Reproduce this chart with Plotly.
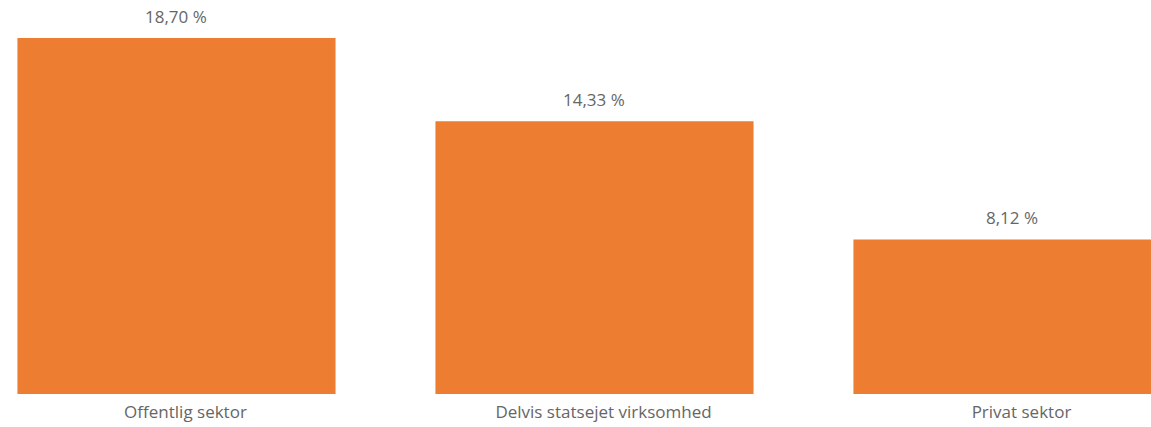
import plotly.graph_objects as go

categories = ["Offentlig sektor", "Delvis statsejet virksomhed", "Privat sektor"]
values = [18.70, 14.33, 8.12]

BAR_COLOR = "#ED7D31"
TEXT_COLOR = "#666666"
FONT = "Open Sans, sans-serif"

fig = go.Figure(
    go.Bar(
        x=categories,
        y=values,
        marker=dict(color=BAR_COLOR, line=dict(width=0)),
        hovertemplate="%{x}: %{y:.2f} %<extra></extra>",
    )
)

# value labels above the bars, a bit further up than plotly's outside text
for cat, val in zip(categories, values):
    fig.add_annotation(
        x=cat,
        y=val,
        text=f"{val:.2f} %".replace(".", ","),
        showarrow=False,
        yanchor="bottom",
        yshift=8,
        font=dict(family=FONT, size=17, color=TEXT_COLOR),
    )

fig.update_layout(
    width=1151,
    height=427,
    margin=dict(l=0, r=0, t=0, b=33),
    plot_bgcolor="white",
    paper_bgcolor="white",
    separators=",.",
    bargap=0.239,
    showlegend=False,
    font=dict(family=FONT, size=17, color=TEXT_COLOR),
    xaxis=dict(
        range=[-0.4222, 2.3314],
        showgrid=False,
        zeroline=False,
        showline=False,
        ticks="",
        ticklabelshift=9,
        ticklabelstandoff=6,
        tickfont=dict(family=FONT, size=17, color=TEXT_COLOR),
    ),
    yaxis=dict(
        range=[0, 20.70],
        visible=False,
    ),
)

fig.write_html(
    "out.html",
    config={"displayModeBar": False},
    post_script="document.body.style.margin='0px';",
)
